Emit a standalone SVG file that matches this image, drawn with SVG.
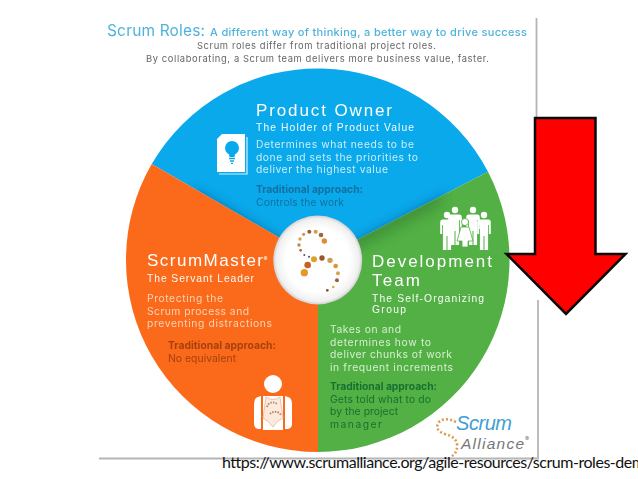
<svg xmlns="http://www.w3.org/2000/svg" width="638" height="479" viewBox="0 0 638 479">
<style>
text{font-family:Inter,"Open Sans","DejaVu Sans",sans-serif}
.t{fill:#fff;font-size:17px;font-family:"Liberation Sans",Arial,sans-serif}
.s{fill:#fff;font-size:10.300px;font-family:"Liberation Sans",Arial,sans-serif;opacity:.96}
.b{font-size:10.300px;font-weight:400}
.blue{fill:#12709f}.or{fill:#a6400e}.gr{fill:#17702f}
.h{font-weight:700}
.pb{fill:#c8edfb}.ob{fill:#fbd3b6}.gb{fill:#d6efd0}
.soft{filter:url(#tx)}
.logo{font-family:"Liberation Sans",Arial,sans-serif;font-style:italic}
</style>
<defs>
<filter id="tx" x="-5%" y="-5%" width="110%" height="110%"><feGaussianBlur stdDeviation=".35"/></filter>
<filter id="sh" x="-30%" y="-30%" width="160%" height="160%"><feGaussianBlur stdDeviation="7"/></filter>
<filter id="lite"><feGaussianBlur stdDeviation=".7"/></filter>
<radialGradient id="disc"><stop offset=".72" stop-color="#fff"/><stop offset=".93" stop-color="#f0f0f0"/><stop offset="1" stop-color="#cfcfcf"/></radialGradient>
<clipPath id="cb"><path d="M318 260L151.700 164A192 192 0 0 1 488 171.700Z"/></clipPath>
<clipPath id="co"><path d="M318 260L151.700 164A192 192 0 0 0 318 452Z"/></clipPath>
<clipPath id="cg"><path d="M318 260L488 171.700A192 192 0 0 1 318 452Z"/></clipPath>
<g id="pp"><circle cx="0" cy="-15" r="3.200"/><path d="M-4.800 -10.500H4.800Q6.800 -10.500 6.800 -8V4H4.900V-5H4.100V20H.5V6H-.5V20H-4.100V-5H-4.900V4H-6.800V-8Q-6.800 -10.500 -4.800 -10.500Z"/></g>
</defs>
<rect width="638" height="479" fill="#fff"/>
<g id="page-frame" fill="none" stroke="#b5b5b5" stroke-width="1.800" filter="url(#lite)"><path d="M536.500 18V120"/><path d="M538 300V458.500H99"/></g>
<g id="heading" class="soft">
<text x="107" y="35.500" font-size="15.500" fill="#4eb3dc" textLength="98">Scrum Roles:</text>
<text x="210" y="35.500" font-size="11" fill="#4eb3dc" font-weight="500" textLength="317">A different way of thinking, a better way to drive success</text>
<text x="197" y="48.500" font-size="9.400" fill="#666" textLength="239">Scrum roles differ from traditional project roles.</text>
<text x="146" y="62" font-size="9.400" fill="#666" textLength="343">By collaborating, a Scrum team delivers more business value, faster.</text>
</g>
<g id="wheel">
<path d="M318 260L151.700 164A192 192 0 0 1 488 171.700Z" fill="#0aa9ec"/>
<path d="M318 260L151.700 164A192 192 0 0 0 318 452Z" fill="#fa6a1a"/>
<path d="M318 260L488 171.700A192 192 0 0 1 318 452Z" fill="#52b044"/>
<g clip-path="url(#cb)"><path d="M318 272L190 198M318 272L450 203" stroke="#04304e" stroke-width="12" opacity=".8" filter="url(#sh)" fill="none"/></g>
<g clip-path="url(#co)"><path d="M318 270V420" stroke="#4a1a00" stroke-width="10" opacity=".6" filter="url(#sh)" fill="none"/></g>
<g clip-path="url(#cg)"><path d="M330 255L440 198" stroke="#12451a" stroke-width="8" opacity=".5" filter="url(#sh)" fill="none"/></g>
</g>
<g id="product-owner">
<g class="soft">
<text x="256" y="116" class="t" textLength="136">Product Owner</text>
<text x="256" y="131" class="s" textLength="158">The Holder of Product Value</text>
<text x="256" y="148" class="b pb" textLength="158">Determines what needs to be</text>
<text x="256" y="160.500" class="b pb" textLength="162">done and sets the priorities to</text>
<text x="256" y="173" class="b pb" textLength="132">deliver the highest value</text>
<text x="256" y="193" class="b blue h" textLength="107">Traditional approach:</text>
<text x="256" y="205.500" class="b blue" textLength="88">Controls the work</text>
</g>
<g id="po-icon">
<path d="M217 139L222 134H245V172H217Z" fill="#fff"/>
<path d="M247 137V174H219" fill="none" stroke="#d9f1fc" stroke-width="1.200"/>
<circle cx="232" cy="148" r="7" fill="#0aa9ec"/>
<path d="M228.500 152H235.500L234.500 157H229.500Z" fill="#0aa9ec"/>
<path d="M229 158.500H235M230 161H234M231 163.300H233" stroke="#0aa9ec" stroke-width="1.300"/>
</g>
</g>
<g id="scrum-master">
<g class="soft">
<text x="147" y="266" class="t" textLength="116">ScrumMaster</text>
<text x="263.500" y="261" fill="#fff" font-size="6">®</text>
<text x="147" y="282" class="s" textLength="107">The Servant Leader</text>
<text x="147" y="302" class="b ob" textLength="76">Protecting the</text>
<text x="147" y="314.500" class="b ob" textLength="102">Scrum process and</text>
<text x="147" y="327" class="b ob" textLength="125">preventing distractions</text>
<text x="168" y="349" class="b or h" textLength="108">Traditional approach:</text>
<text x="168" y="362" class="b or" textLength="68">No equivalent</text>
</g>
<g id="sm-icon">
<circle cx="273" cy="384" r="9" fill="#fff"/>
<path d="M258 397L261 396V429H258Q254 428 254 424V404Q254 398 258 397ZM288 397L285 396V429H288Q292 428 292 424V404Q292 398 288 397Z" fill="#fff"/>
<path d="M263 396H283V430H263Z" fill="#fff"/>
<path d="M266 397Q273 402 280 397L283 418Q276 421 273 427Q269 421 263 418Z" fill="#fdeadf" stroke="#e2b79b" stroke-width=".8"/>
<g fill="none" stroke-dasharray="1.500 1.200" stroke-width="1.800" stroke="#b9825c"><path d="M267 407A6 6 0 0 1 277 404"/><path d="M270 414A7 7 0 0 1 281 415"/></g>
</g>
</g>
<g id="development-team">
<g class="soft">
<text x="372" y="267" class="t" textLength="120">Development</text>
<text x="372" y="286" class="t" textLength="48">Team</text>
<text x="372" y="301.500" class="s" textLength="112">The Self-Organizing</text>
<text x="372" y="313" class="s" textLength="34">Group</text>
<text x="330" y="333" class="b gb" textLength="71">Takes on and</text>
<text x="330" y="345.500" class="b gb" textLength="101">determines how to</text>
<text x="330" y="358" class="b gb" textLength="122">deliver chunks of work</text>
<text x="330" y="370.500" class="b gb" textLength="123">in frequent increments</text>
<text x="330" y="390" class="b gr h" textLength="107">Traditional approach:</text>
<text x="330" y="402.500" class="b gr" textLength="101">Gets told what to do</text>
<text x="330" y="415" class="b gr" textLength="68">by the project</text>
<text x="330" y="427.500" class="b gr" textLength="52">manager</text>
</g>
<g id="dt-icon" fill="#fff">
<use href="#pp" x="455" y="225"/>
<use href="#pp" x="473" y="225"/>
<use href="#pp" x="447" y="230"/>
<use href="#pp" x="484" y="230"/>
<circle cx="465" cy="222" r="3.500" stroke="#52b044" stroke-width=".8"/><path d="M461 227H469L473 241H468V247H462V241H457Z" stroke="#52b044" stroke-width=".8"/>
</g>
</g>
<g id="center-logo">
<circle cx="317.700" cy="260" r="44.500" fill="url(#disc)"/>
<g transform="translate(260 190) scale(.3333)">
<circle cx="148" cy="125" r="6" fill="#9c5b35"/><circle cx="167" cy="125" r="6" fill="#d99a3c"/><circle cx="183" cy="135" r="7" fill="#a9653a"/><circle cx="193" cy="153" r="8" fill="#e08b2f"/><circle cx="131" cy="133" r="5" fill="#c89a5a"/><circle cx="120" cy="147" r="5" fill="#d9a24a"/><circle cx="117" cy="165" r="5" fill="#b98a4f"/><circle cx="122" cy="181" r="4" fill="#a5673d"/><circle cx="133" cy="195" r="3" fill="#7a3a8c"/><circle cx="147" cy="200" r="3" fill="#5b3f60"/><circle cx="162" cy="208" r="9" fill="#dca02c"/><circle cx="186" cy="204" r="8" fill="#9b5530"/><circle cx="210" cy="211" r="8" fill="#cf9a55"/><circle cx="227" cy="228" r="7" fill="#e2952e"/><circle cx="234" cy="250" r="6" fill="#d8a24c"/><circle cx="231" cy="271" r="6" fill="#96603f"/><circle cx="220" cy="291" r="4" fill="#e3a63c"/><circle cx="202" cy="301" r="4" fill="#8d4a2a"/><circle cx="143" cy="225" r="10" fill="#c4622a"/><circle cx="133" cy="248" r="11" fill="#e8962a"/>
</g>
</g>
<g id="alliance-logo">
<text x="456" y="430" font-size="20" fill="#3f9fd3" class="logo" textLength="56">Scrum</text>
<text x="461" y="449" font-size="15.500" fill="#777" class="logo" textLength="63">Alliance</text>
<text x="525" y="441" font-size="6" fill="#777">®</text>
<g id="alliance-dots">
<path d="M456 422Q444 416 438 423Q435 431 445 434Q456 437 457 444Q458 452 452 456" fill="none" stroke="#dd9a4a" stroke-width="2.600" stroke-dasharray="2 2.200"/>
</g>
</g>
<g id="arrow"><path d="M535 118H595.500V254H625.500L566 314L506.500 254H535Z" fill="#f00" stroke="#0a0a0a" stroke-width="2.500"/></g>
<text id="source-url" x="222" y="468" font-size="16" style="font-family:Lato,'Open Sans',sans-serif" fill="#111" textLength="423">https://www.scrumalliance.org/agile-resources/scrum-roles-dem</text>
</svg>
